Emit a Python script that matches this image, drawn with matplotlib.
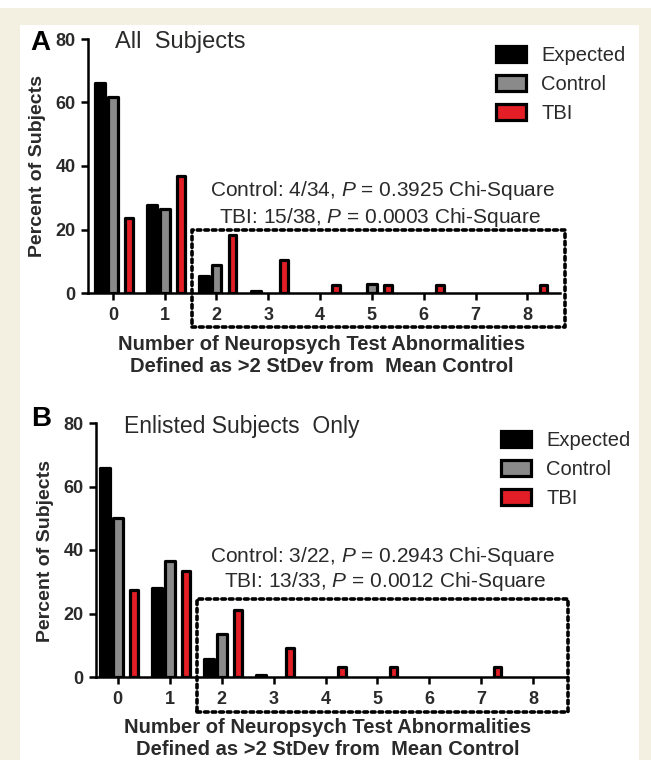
import matplotlib
matplotlib.use("Agg")
import matplotlib.pyplot as plt
import matplotlib.patches as patches
import numpy as np

plt.rcParams["font.family"] = ["Liberation Sans", "DejaVu Sans"]
plt.rcParams["mathtext.fontset"] = "custom"
plt.rcParams["mathtext.it"] = "Liberation Sans:italic"
plt.rcParams["mathtext.rm"] = "Liberation Sans"

# number of abnormalities (x categories)
categories = [0, 1, 2, 3, 4, 5, 6, 7, 8]
y_ticks = [0, 20, 40, 60, 80]

# panel A: all subjects (percent of subjects)
expected_a = [66.0, 27.6, 5.4, 0.7, 0, 0, 0, 0, 0]
control_a = [61.8, 26.5, 8.8, 0, 0, 2.9, 0, 0, 0]
tbi_a = [23.7, 36.8, 18.4, 10.5, 2.6, 2.6, 2.6, 0, 2.6]
notes_a = [r"Control: 4/34, $\mathit{P}$ = 0.3925 Chi-Square",
           r"TBI: 15/38, $\mathit{P}$ = 0.0003 Chi-Square"]

# panel B: enlisted subjects only
expected_b = [65.8, 28.0, 5.6, 0.6, 0, 0, 0, 0, 0]
control_b = [50.0, 36.4, 13.6, 0, 0, 0, 0, 0, 0]
tbi_b = [27.3, 33.3, 21.2, 9.1, 3.0, 3.0, 0, 3.0, 0]
notes_b = [r"Control: 3/22, $\mathit{P}$ = 0.2943 Chi-Square",
           r"TBI: 13/33, $\mathit{P}$ = 0.0012 Chi-Square"]

series_names = ["Expected", "Control", "TBI"]
colors = ["#000000", "#8a8a8a", "#e41e26"]
xlabel = "Number of Neuropsych Test Abnormalities\nDefined as >2 StDev from  Mean Control"
txt = "#2a2a2a"


def draw_panel(ax, values, notes, xlim, box, note_pos):
    x = np.array(categories)
    offsets = [-0.245, 0.0, 0.31]
    widths = [0.19, 0.19, 0.15]
    for vals, col, off, w, name in zip(values, colors, offsets, widths, series_names):
        vals = np.array(vals, dtype=float)
        keep = vals > 0  # empty categories draw nothing
        ax.bar(x[keep] + off, vals[keep], width=w, color=col, edgecolor="black",
               linewidth=2.3, joinstyle="round", label=name, zorder=3)
    ax.set_xlim(xlim)
    ax.set_ylim(0, 80)
    ax.set_xticks(categories)
    ax.set_yticks(y_ticks)
    for s in ["top", "right"]:
        ax.spines[s].set_visible(False)
    for s in ["left", "bottom"]:
        ax.spines[s].set_linewidth(1.8)
        ax.spines[s].set_zorder(5)
    ax.tick_params(width=1.8, length=5, labelsize=13, colors="black")
    ax.tick_params(axis="x", pad=5)
    ax.tick_params(axis="y", pad=4)
    for lab in ax.get_xticklabels() + ax.get_yticklabels():
        lab.set_fontweight("bold")
        lab.set_color(txt)
    rect = patches.Rectangle((box[0], box[2]), box[1] - box[0], box[3] - box[2],
                             fill=False, edgecolor="black", linewidth=2.6,
                             linestyle=(0, (1.0, 1.1)), capstyle="round",
                             joinstyle="round", clip_on=False, zorder=4)
    ax.add_patch(rect)
    for note, (nx, ny) in zip(notes, note_pos):
        ax.text(nx, ny, note, ha="center", va="center", fontsize=15, color=txt)


fig = plt.figure(figsize=(6.51, 7.60), dpi=100)
fig.patch.set_facecolor("white")
fig.add_artist(patches.Rectangle((0, 0), 1, 1 - 8 / 760, transform=fig.transFigure,
                                 facecolor="#f3efe1", edgecolor="none", zorder=-10))
fig.add_artist(patches.Rectangle((20 / 651, 0), 619 / 651, 1 - 25 / 760,
                                 transform=fig.transFigure, facecolor="white",
                                 edgecolor="none", zorder=-9))

ax_a = fig.add_axes([88 / 651, 1 - 293 / 760, 472 / 651, 254 / 760])
ax_b = fig.add_axes([96 / 651, 1 - 677 / 760, 471 / 651, 254 / 760])
for ax in (ax_a, ax_b):
    ax.patch.set_alpha(0)

draw_panel(ax_a, [expected_a, control_a, tbi_a], notes_a, (-0.48, 8.63),
           (1.52, 8.73, -10.7, 20), [(5.21, 32.4), (5.15, 23.9)])
draw_panel(ax_b, [expected_b, control_b, tbi_b], notes_b, (-0.42, 8.65),
           (1.52, 8.67, -11.0, 24.6), [(5.1, 37.8), (5.15, 30.2)])

# titles and panel letters
fig.text(30 / 651, 1 - 43 / 760, "A", fontsize=20, fontweight="bold", va="center")
fig.text(115 / 651, 1 - 42 / 760, "All  Subjects", fontsize=17, color=txt, va="center")
fig.text(31 / 651, 1 - 419 / 760, "B", fontsize=20, fontweight="bold", va="center")
fig.text(124 / 651, 1 - 427 / 760, "Enlisted Subjects  Only", fontsize=16.5,
         color=txt, va="center")

# axis labels
fig.text(38 / 651, 1 - 166 / 760, "Percent of Subjects", rotation=90, fontsize=14,
         fontweight="bold", color=txt, ha="center", va="center")
fig.text(45 / 651, 1 - 551 / 760, "Percent of Subjects", rotation=90, fontsize=14,
         fontweight="bold", color=txt, ha="center", va="center")
fig.text(322 / 651, 1 - 355.5 / 760, xlabel, fontsize=14.5, fontweight="bold",
         color=txt, ha="center", va="center", linespacing=1.15)
fig.text(328 / 651, 1 - 738.5 / 760, xlabel, fontsize=14.5, fontweight="bold",
         color=txt, ha="center", va="center", linespacing=1.15)

# legends
for ax, anchor in ((ax_a, (496 / 651, 1 - 46 / 760)), (ax_b, (501 / 651, 1 - 431 / 760))):
    leg = ax.legend(loc="upper left", bbox_to_anchor=anchor, bbox_transform=fig.transFigure,
                    frameon=False, fontsize=14.5, handlelength=1.5, handleheight=0.85,
                    handletextpad=0.75, labelspacing=0.5, borderpad=0, borderaxespad=0)
    for t in leg.get_texts():
        t.set_color(txt)

fig.savefig("out.png", dpi=100)
